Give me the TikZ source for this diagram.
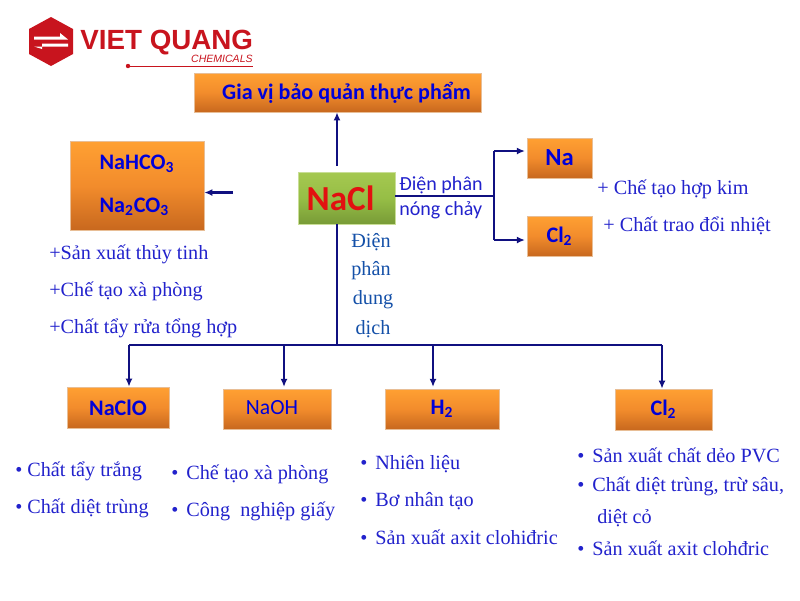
\documentclass[tikz,border=0pt]{standalone}
\usepackage{fontspec}
\setmainfont{Liberation Serif}
\setsansfont{Carlito}
\newfontfamily\logofont{Liberation Sans}
\usetikzlibrary{positioning,arrows.meta}
\definecolor{wire}{RGB}{16,16,128}
\definecolor{ink}{RGB}{34,34,204}
\definecolor{inkdeep}{RGB}{20,80,168}
\definecolor{boxtop}{RGB}{255,160,50}
\definecolor{boxmid}{RGB}{242,140,44}
\definecolor{boxlow}{RGB}{200,104,30}
\definecolor{boxedge}{RGB}{232,190,150}
\definecolor{salttop}{RGB}{165,200,80}
\definecolor{saltmid}{RGB}{150,190,70}
\definecolor{saltlow}{RGB}{120,155,55}
\definecolor{saltred}{RGB}{226,16,16}
\definecolor{logored}{RGB}{200,20,30}
\tikzset{
  >={Latex[length=1.6mm,width=1.4mm]},
  link/.style    ={wire, line width=0.48mm},
  feed/.style    ={link, ->},
  prodbox/.style ={top color=boxtop, bottom color=boxlow, middle color=boxmid, draw=boxedge, thin,
                   text=blue!85!black, font=\sffamily\bfseries\fontsize{12.6}{15}\selectfont, inner sep=0pt},
  saltbox/.style ={top color=salttop, bottom color=saltlow, middle color=saltmid, draw=salttop!60!white, thin,
                   text=saltred, font=\sffamily\bfseries\fontsize{20}{22}\selectfont, inner sep=0pt},
  usetext/.style ={anchor=west, text=ink, inner sep=0pt, font=\fontsize{11.5}{13}\selectfont},
  steptext/.style={text=inkdeep, inner sep=0pt, font=\fontsize{11.5}{13}\selectfont},
  melttext/.style={anchor=west, text=ink, inner sep=0pt, font=\sffamily\fontsize{11.4}{13}\selectfont},
}
\newcommand{\dotitem}{\textbullet\hspace{1mm}}
\newcommand{\dotwide}{\textbullet\hspace{1.6mm}}

\begin{document}
\begin{tikzpicture}[x=0.02cm,y=-0.02cm]
  \useasboundingbox (0,0) rectangle (800,600);

  % logo
  \fill[logored] (51,17) -- (73,29) -- (73,54) -- (51,66) -- (29,54) -- (29,29) -- cycle;
  \fill[white] (34,36.5) -- (60,36.5) -- (60,33) -- (68,39.5) -- (34,39.5) -- cycle;
  \fill[white] (68,43.5) -- (42,43.5) -- (42,49) -- (34,46.5) -- (68,46.5) -- cycle;
  \node[anchor=west, inner sep=0pt, text=logored, font=\logofont\bfseries\fontsize{15.8}{18}\selectfont] (brand) at (80,43) {VIET QUANG};
  \node[anchor=east, inner sep=0pt, text=logored, font=\logofont\itshape\fontsize{6}{8}\selectfont] (chem) at (253,59) {CHEMICALS};
  \draw[logored] (128,66) -- (253,66);
  \fill[logored] (128,66) circle (2.2);

  % top row
  \node[prodbox, minimum width=5.74cm, minimum height=0.78cm] (spice) at (337.5,92.5) {\hspace*{0.36cm}Gia vị bảo quản thực phẩm};
  \node[saltbox, minimum width=1.94cm, minimum height=1.04cm] (nacl) at (346.5,198) {NaCl\hspace*{0.24cm}};
  \node[prodbox, minimum width=2.68cm, minimum height=1.78cm, align=left] (soda) at (137,185.5) {NaHCO\textsubscript{3}\\[3.4mm]Na\textsubscript{2}CO\textsubscript{3}};
  \node[prodbox, minimum width=1.3cm, minimum height=0.8cm, font=\sffamily\bfseries\fontsize{14}{16}\selectfont] (na) at (559.5,158) {Na};
  \node[prodbox, minimum width=1.3cm, minimum height=0.8cm] (clmelt) at (559.5,236) {Cl\textsubscript{2}};

  % bottom row
  \node[prodbox, minimum width=2.04cm, minimum height=0.82cm] (naclo) at (118,407.5) {NaClO};
  \node[prodbox, minimum width=2.16cm, minimum height=0.8cm, font=\sffamily\fontsize{12.3}{15}\selectfont] (naoh) at (277,409) {\raisebox{1.2pt}{NaOH}\hspace*{0.2cm}};
  \node[prodbox, minimum width=2.28cm, minimum height=0.8cm] (hydro) at (442,409) {\raisebox{0.6pt}{H\textsubscript{2}}};
  \node[prodbox, minimum width=1.94cm, minimum height=0.82cm] (clsol) at (663.5,409.5) {\raisebox{0.8pt}{Cl\textsubscript{2}}};

  % free ends of the connectors
  \coordinate (upfoot) at (337,166);
  \coordinate (lefttail) at (233,192.5);
  \coordinate (meltjoin) at (494,196);
  \coordinate (meltup) at (494,151);
  \coordinate (meltlow) at (494,240);
  \coordinate (solfoot) at (337,345);
  \coordinate (busleft) at (129,345);
  \coordinate (busright) at (662,345);
  \coordinate (busnaoh) at (284,345);
  \coordinate (bushydro) at (433,345);

  % connectors
  \draw[feed] (upfoot) -- (upfoot |- spice.south);
  \draw[feed] (lefttail) -- (lefttail -| soda.east);
  \draw[link] (nacl.east |- meltjoin) -- (meltjoin);
  \draw[link] (meltup) -- (meltlow);
  \draw[feed] (meltup) -- ([xshift=-1]meltup -| na.west);
  \draw[feed] (meltlow) -- ([xshift=-1]meltlow -| clmelt.west);
  \draw[link] (solfoot |- nacl.south) -- (solfoot);
  \draw[link] (busleft) -- (busright);
  \draw[feed] (busleft) -- (busleft |- naclo.north);
  \draw[feed] (busnaoh) -- ([yshift=1]busnaoh |- naoh.north);
  \draw[feed] (bushydro) -- ([yshift=1]bushydro |- hydro.north);
  \draw[feed] (busright) -- (busright |- clsol.north);

  % labels on the connectors
  \node[melttext] (meltone) at (399,185) {Điện phân};
  \node[melttext] (melttwo) at (399,210) {nóng chảy};
  \node[steptext] (stepa) at (371,242) {Điện};
  \node[steptext] (stepb) at (371,271) {phân};
  \node[steptext] (stepc) at (373,300) {dung};
  \node[steptext] (stepd) at (373,329) {dịch};

  % uses
  \node[usetext] (useglass) at (49,254) {+Sản xuất thủy tinh};
  \node[usetext] (usesoap) at (49,291) {+Chế tạo xà phòng};
  \node[usetext] (useclean) at (49,328) {+Chất tẩy rửa tổng hợp};
  \node[usetext] (usealloy) at (597,189) {+ Chế tạo hợp kim};
  \node[usetext] (useheat) at (603,226) {+ Chất trao đổi nhiệt};

  \node[usetext] (aone) at (15,471) {\dotitem Chất tẩy trắng};
  \node[usetext] (atwo) at (15,508) {\dotitem Chất diệt trùng};
  \node[usetext] (bone) at (171,474) {\dotwide Chế tạo xà phòng};
  \node[usetext] (btwo) at (171,511) {\dotwide Công\ \ nghiệp giấy};
  \node[usetext] (cone) at (360,464) {\dotwide Nhiên liệu};
  \node[usetext] (ctwo) at (360,501) {\dotwide Bơ nhân tạo};
  \node[usetext] (cthree) at (360,537) {\dotwide Sản xuất axit clohiđric};
  \node[usetext] (done) at (577,455) {\dotwide Sản xuất chất dẻo PVC};
  \node[usetext] (dtwo) at (577,486) {\dotwide Chất diệt trùng, trừ sâu,};
  \node[usetext] (dmid) at (597,518) {diệt cỏ};
  \node[usetext] (dthree) at (577,548) {\dotwide Sản xuất axit clohđric};
\end{tikzpicture}
\end{document}
